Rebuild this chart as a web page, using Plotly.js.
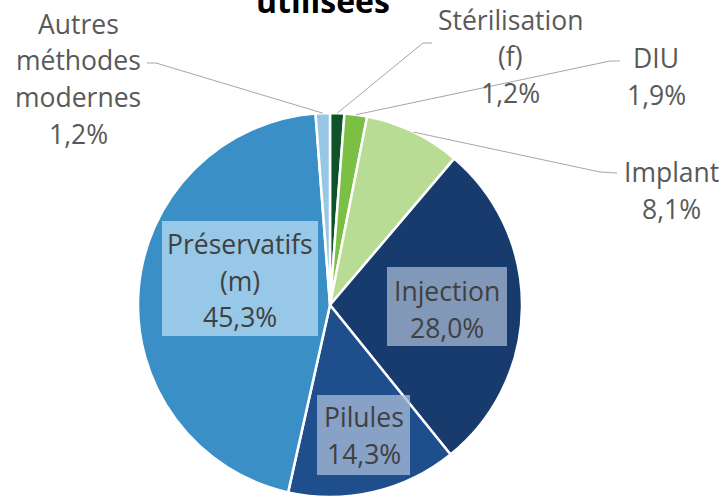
<!DOCTYPE html>
<html>
<head>
<meta charset="utf-8">
<script src="https://cdn.plot.ly/plotly-3.0.1.min.js"></script>
<style>html,body{margin:0;padding:0;background:#fff;}#chart{width:721px;height:499px;}</style>
</head>
<body>
<div id="chart"></div>
<script>
// ---- data ----
const categories = ['Stérilisation (f)', 'DIU', 'Implant', 'Injection', 'Pilules', 'Préservatifs (m)', 'Autres méthodes modernes'];
const values = [1.2, 1.9, 8.1, 28.0, 14.3, 45.3, 1.2];
const labelLines = [['Stérilisation', '(f)'], ['DIU'], ['Implant'], ['Injection'], ['Pilules'], ['Préservatifs', '(m)'], ['Autres', 'méthodes', 'modernes']];
const titleText = 'utilisées';

// ---- styles / layout ----
const colors = ['#0d5228', '#7cbf45', '#b8dc93', '#173b6c', '#1f4e8d', '#3a90c6', '#98c6e5'];
const W = 721, H = 499, cx = 330, cy = 305, R = 192;
const FONT = '"Open Sans", "DejaVu Sans", sans-serif';
const FS = 26.5;
const LS = 36.5;
// label placement per category: center x, first line center y, optional box, optional leader knee/end
const place = [
  {x: 510, y: 20, lead: [[432, 43], [423, 43]]},
  {x: 656, y: 58, lead: [[620, 61], [610, 61]]},
  {x: 671, y: 172, lead: [[617, 173], [600, 172]]},
  {x: 447, y: 291, box: [387, 267, 507, 346], bg: 'rgba(160,178,205,0.78)'},
  {x: 363.5, y: 417, box: [317, 395, 410, 475], bg: 'rgba(165,185,215,0.78)'},
  {x: 240, y: 244, box: [162, 221, 318, 336], bg: 'rgba(168,210,236,0.85)'},
  {x: 78, y: 24, lead: [[147, 63], [156, 63]]}
];

const px = x => x / W;
const py = y => 1 - y / H;
const fmt = v => v.toFixed(1).replace('.', ',') + '%';

const total = values.reduce((a, b) => a + b, 0);
const annotations = [];
const shapes = [];
let cum = 0;
values.forEach((v, i) => {
  const mid = (cum + v / 2) / total * 2 * Math.PI;
  cum += v;
  const p = place[i];
  const lines = labelLines[i].concat([fmt(v)]);
  if (p.box) {
    shapes.push({type: 'rect', xref: 'paper', yref: 'paper', layer: 'above',
      x0: px(p.box[0]), x1: px(p.box[2]), y0: py(p.box[3]), y1: py(p.box[1]),
      fillcolor: p.bg, line: {width: 0}});
  }
  lines.forEach((t, k) => {
    annotations.push({text: t, xref: 'paper', yref: 'paper', x: px(p.x), y: py(p.y + k * LS),
      xanchor: 'center', yanchor: 'middle', showarrow: false,
      font: {family: FONT, size: FS, color: p.box ? '#404040' : '#595959'}});
  });
  if (p.lead) {
    const ex = cx + R * Math.sin(mid), ey = cy - R * Math.cos(mid);
    const pts = [p.lead[0], p.lead[1], [ex, ey]];
    const path = pts.map((q, k) => (k ? 'L ' : 'M ') + px(q[0]) + ' ' + py(q[1])).join(' ');
    shapes.push({type: 'path', xref: 'paper', yref: 'paper', layer: 'above', path: path,
      line: {color: '#a6a6a6', width: 1}});
  }
});

annotations.push({text: '<b>' + titleText + '</b>', xref: 'paper', yref: 'paper', x: px(323), y: py(24),
  xanchor: 'center', yanchor: 'bottom', showarrow: false,
  font: {family: FONT, size: 32, color: '#000000'}});

const trace = {
  type: 'pie', labels: categories, values: values, sort: false, direction: 'clockwise', rotation: 0,
  textinfo: 'none', hoverinfo: 'label+percent',
  marker: {colors: colors, line: {color: '#ffffff', width: 2.5}},
  domain: {x: [px(cx - R), px(cx + R)], y: [(H - cy - R) / H, (H - cy + R) / H]},
  showlegend: false
};

Plotly.newPlot('chart', [trace], {
  width: W, height: H, margin: {l: 0, r: 0, t: 0, b: 0},
  paper_bgcolor: '#ffffff', showlegend: false,
  annotations: annotations, shapes: shapes
}, {staticPlot: true});
</script>
</body>
</html>
